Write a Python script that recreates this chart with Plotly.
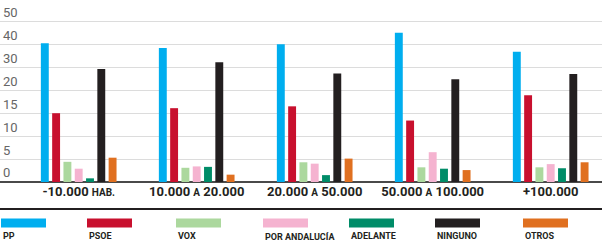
import plotly.graph_objects as go

# ---- data ----
categories = ["-10.000 <span style='font-size:10px'>HAB.</span>",
              "10.000 <span style='font-size:10px'>A</span> 20.000",
              "20.000 <span style='font-size:10px'>A</span> 50.000",
              "50.000 <span style='font-size:10px'>A</span> 100.000",
              "+100.000"]
series_names = ["PP", "PSOE", "VOX", "POR ANDALUCÍA", "ADELANTE", "NINGUNO", "OTROS"]
pp = [40.5, 38.4, 40.1, 45.1, 36.8]
psoe = [15.0, 16.1, 16.5, 13.4, 18.9]
vox = [4.4, 3.1, 4.3, 3.2, 3.2]
por_andalucia = [2.9, 3.4, 4.0, 6.5, 3.9]
adelante = [0.8, 3.3, 1.5, 2.9, 3.0]
ninguno = [29.3, 32.2, 27.3, 24.8, 27.1]
otros = [5.3, 1.6, 5.1, 2.6, 4.3]
tick_values = [0, 5, 10, 15, 20, 30, 40, 50]
tick_labels = ["0", "5", "10", "15", "20", "30", "40", "50"]

# ---- style ----
colors = ["#00aeef", "#c8102e", "#acd89e", "#f5b3d0", "#008c68", "#231f20", "#e07020"]
W, H = 602, 248
M_T, M_B = 3, 66
PLOT_H = H - M_T - M_B
UNIT_PX = 22.93
Y_MAX = PLOT_H / UNIT_PX


def scale(v):
    """Piecewise-linear value axis used by the original graphic."""
    for i in range(len(tick_values) - 1):
        a, b = tick_values[i], tick_values[i + 1]
        if v <= b:
            return i + (v - a) / (b - a)
    a, b = tick_values[-2], tick_values[-1]
    return len(tick_values) - 2 + (v - a) / (b - a)


def py(pix):
    return (H - M_B - pix) / PLOT_H


values = [pp, psoe, vox, por_andalucia, adelante, ninguno, otros]
x_idx = list(range(len(categories)))

fig = go.Figure()
for name, vals, col in zip(series_names, values, colors):
    fig.add_trace(go.Bar(
        x=x_idx, y=[scale(v) for v in vals], name=name,
        marker=dict(color=col, line=dict(width=0)),
        customdata=vals, hovertemplate=name + ": %{customdata}<extra></extra>",
    ))

px_per_unit = 118.0
c0 = 78.7
fig.update_layout(
    width=W, height=H,
    margin=dict(l=0, r=0, t=M_T, b=M_B),
    paper_bgcolor="white", plot_bgcolor="white",
    barmode="group", bargap=0.33, bargroupgap=0.3,
    showlegend=False,
    font=dict(family="Roboto", color="#231f20"),
    xaxis=dict(
        range=[-c0 / px_per_unit, (W - c0) / px_per_unit],
        tickmode="array", tickvals=x_idx, ticktext=["<b>" + c + "</b>" for c in categories],
        showgrid=False, zeroline=False, showline=False, ticks="",
        tickfont=dict(family="Roboto", size=13, color="#231f20"),
    ),
    yaxis=dict(
        range=[0, Y_MAX],
        tickmode="array", tickvals=[scale(v) for v in tick_values], ticktext=tick_labels,
        ticklabelposition="inside top",
        tickfont=dict(family="Roboto", size=13, color="#666666"),
        showgrid=True, gridcolor="#dcdcdc", gridwidth=1,
        zeroline=True, zerolinecolor="#4a4a4a", zerolinewidth=2,
        showline=False, ticks="",
    ),
)

# black rule below category labels
fig.add_shape(type="line", xref="paper", yref="paper",
              x0=0, x1=1, y0=py(209), y1=py(209),
              line=dict(color="#231f20", width=2))

# legend swatches + labels
legend_x = [1, 87, 176, 263, 349, 435, 523]
sw_w = 45
for name, col, lx in zip(series_names, colors, legend_x):
    fig.add_shape(type="rect", xref="paper", yref="paper",
                  x0=lx / W, x1=(lx + sw_w) / W, y0=py(227.5), y1=py(218.5),
                  fillcolor=col, line=dict(width=0))
    fig.add_annotation(xref="paper", yref="paper", x=lx / W, y=py(236),
                       text="<b>" + name + "</b>", showarrow=False,
                       xanchor="left", yanchor="middle",
                       font=dict(family="Roboto", size=9, color="#231f20"))

fig.write_html("out.html", config={"displayModeBar": False},
               post_script="document.body.style.margin='0';document.body.style.overflow='hidden';")
